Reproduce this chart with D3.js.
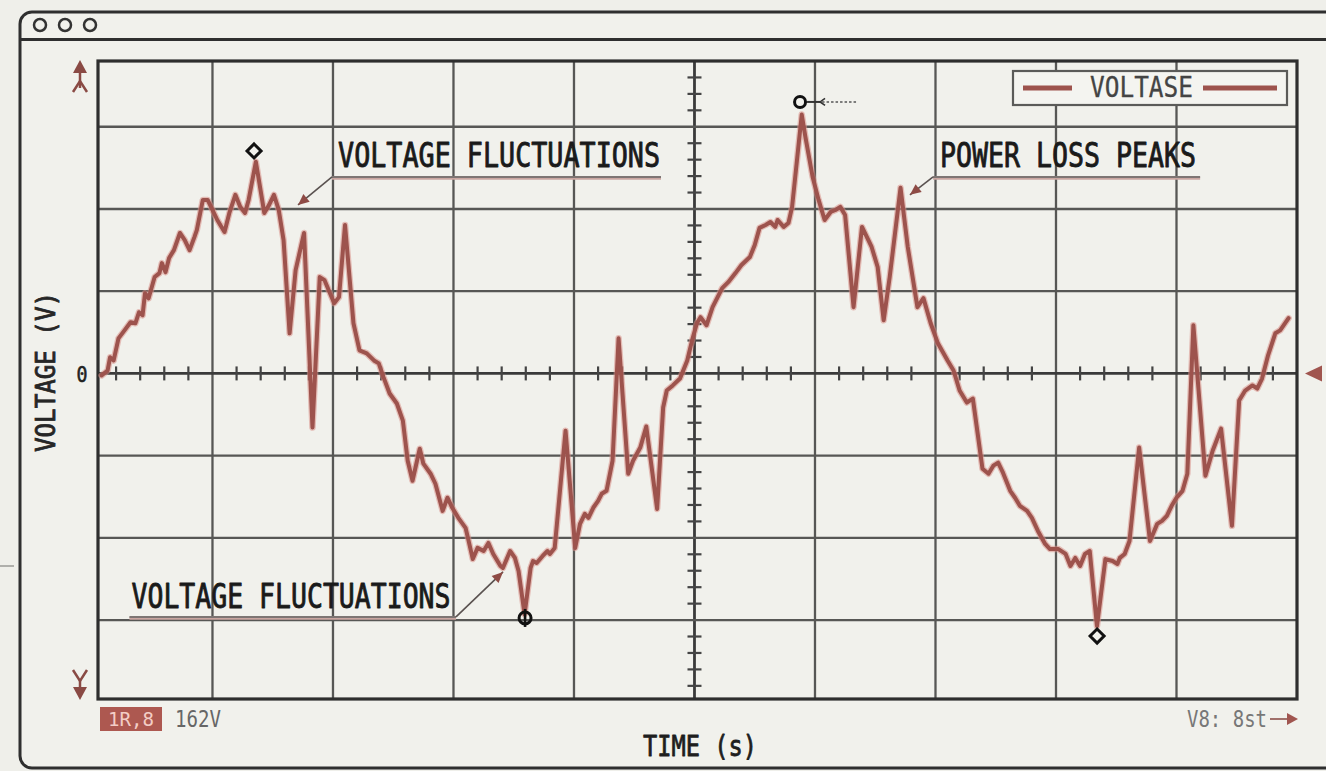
<!DOCTYPE html>
<html><head><meta charset="utf-8">
<script src="https://cdn.jsdelivr.net/npm/d3@7"></script>
<style>
html,body{margin:0;padding:0;background:#efefea;}
svg{display:block;}
</style></head><body>
<svg id="c" width="1326" height="771"></svg>
<script>
// ---------------- DATA ----------------
const times = [0.08,0.13,0.15,0.18,0.22,0.27,0.32,0.36,0.39,0.42,0.44,0.47,0.52,0.56,0.58,0.61,0.64,0.68,0.73,0.77,0.81,0.85,0.87,0.92,0.96,1.00,1.04,1.10,1.14,1.19,1.23,1.27,1.30,1.36,1.43,1.47,1.51,1.55,1.59,1.64,1.69,1.76,1.83,1.89,1.93,2.01,2.05,2.10,2.17,2.22,2.28,2.34,2.38,2.42,2.47,2.53,2.58,2.62,2.66,2.72,2.75,2.81,2.85,2.91,2.95,2.99,3.04,3.10,3.12,3.16,3.20,3.25,3.29,3.33,3.39,3.41,3.47,3.51,3.54,3.59,3.64,3.66,3.69,3.74,3.78,3.80,3.84,3.93,4.01,4.05,4.09,4.12,4.16,4.20,4.23,4.27,4.32,4.37,4.45,4.49,4.55,4.60,4.69,4.74,4.77,4.82,4.88,4.94,4.98,5.02,5.05,5.10,5.15,5.23,5.28,5.34,5.39,5.46,5.50,5.54,5.59,5.63,5.67,5.69,5.74,5.78,5.81,5.89,5.92,5.98,6.03,6.08,6.13,6.17,6.21,6.25,6.32,6.39,6.47,6.52,6.57,6.62,6.71,6.77,6.85,6.90,6.96,7.02,7.10,7.15,7.20,7.26,7.31,7.35,7.39,7.44,7.48,7.52,7.56,7.62,7.66,7.70,7.76,7.80,7.85,7.91,7.95,8.02,8.08,8.12,8.16,8.20,8.24,8.28,8.34,8.41,8.47,8.51,8.53,8.57,8.61,8.69,8.78,8.84,8.88,8.92,8.96,9.00,9.05,9.09,9.14,9.24,9.30,9.37,9.46,9.52,9.57,9.63,9.67,9.71,9.76,9.82,9.86,9.93];
const voltages = [-1.2,1.8,9.8,7.9,21.3,26.2,31.1,30.5,37.2,35.4,48.8,45.7,58.6,61.0,67.1,61.6,70.2,75.0,85.4,81.1,75.0,82.9,87.2,105.5,105.5,99.4,93.3,86.0,97.6,108.6,101.3,97.6,105.5,128.7,97.6,102.5,108.6,99.4,81.1,24.4,62.8,85.4,-32.9,58.6,56.7,42.7,46.4,90.3,30.5,14.0,12.2,7.9,6.1,-2.4,-12.2,-18.3,-28.7,-53.1,-65.3,-45.8,-54.9,-61.0,-67.1,-83.6,-75.6,-81.7,-87.8,-93.9,-100.0,-112.9,-106.1,-108.0,-103.1,-109.8,-117.1,-118.3,-108.0,-112.2,-120.2,-146.4,-118.3,-114.1,-115.3,-111.0,-108.0,-109.8,-106.1,-34.8,-106.1,-91.5,-85.4,-87.8,-81.7,-77.5,-73.2,-71.4,-53.1,21.4,-61.0,-53.1,-45.1,-32.3,-82.4,-20.7,-10.4,-7.3,-3.1,7.9,20.1,30.5,34.2,29.3,40.3,51.9,55.5,61.0,65.9,70.8,78.1,88.5,90.3,92.1,89.1,93.3,89.1,91.5,101.3,157.4,144.0,119.6,105.5,93.3,98.2,99.4,101.3,96.4,40.3,89.1,76.9,64.7,32.3,58.6,112.9,76.9,40.3,45.8,30.5,18.3,7.9,1.8,-10.4,-17.7,-15.3,-36.6,-58.0,-61.0,-56.1,-54.3,-60.4,-71.4,-75.6,-80.5,-83.6,-87.8,-95.8,-103.7,-106.8,-106.8,-109.8,-117.1,-112.2,-117.1,-109.8,-108.0,-153.7,-112.9,-114.1,-115.9,-112.2,-109.8,-101.9,-45.1,-101.9,-91.5,-89.7,-86.6,-80.5,-75.6,-71.4,-61.0,29.3,-62.2,-47.0,-33.6,-92.7,-16.5,-10.4,-7.3,-9.2,-3.1,11.0,24.4,26.2,33.6];
const xGridTicks = [1,2,3,4,5,6,7,8,9];
const yGridTicks = [-150,-100,-50,0,50,100,150];
const yTickLabels = ["0"];
const seriesName = "VOLTASE";
const markerT = [1.345, 5.876, 3.594, 8.341];
const markerV = [135.3, 165.1, -148.7, -159.7];
const markerShape = ["diamond", "circlePointer", "circleBar", "diamond"];
const annTexts = ["VOLTAGE FLUCTUATIONS", "POWER LOSS PEAKS", "VOLTAGE FLUCTUATIONS"];
const annTextT = [2.042, 7.037, 0.328];
const annTextV = [125.6, 125.6, -142.6];
const annLineT0 = [1.992, 6.980, 0.311];
const annLineT1 = [4.722, 9.196, 3.021];
const annLineV = [119.5, 119.5, -148.1];
const annFromEnd = [0, 0, 1];
const annTargetT = [1.710, 6.788, 3.411];
const annTargetV = [102.5, 108.6, -120.7];
const xLabel = "TIME (s)";
const yLabel = "VOLTAGE (V)";
const footLeftBadge = "1R,8";
const footLeftText = "162V";
const footRightText = "V8: 8st";

// ---------------- DRAW ----------------
const MONO = "'DejaVu Sans Mono','Liberation Mono',monospace";
const LINE_COL = "#9d534d";
const svg = d3.select("#c");
const plot = {left:98, right:1297, top:61, bottom:699};
const x = d3.scaleLinear().domain([0.05, 10]).range([plot.left, plot.right]);
const y = d3.scaleLinear().domain([-198, 190]).range([plot.bottom, plot.top]);

function txt(g, s, px, py, size, len, fill, anchor, strokeW) {
  const t = g.append("text").attr("x", px).attr("y", py)
    .attr("font-family", MONO).attr("font-size", size).attr("fill", fill)
    .attr("text-anchor", anchor || "start").text(s);
  if (strokeW) t.attr("stroke", fill).attr("stroke-width", strokeW).attr("stroke-linejoin","round");
  if (len) t.attr("textLength", len).attr("lengthAdjust", "spacingAndGlyphs");
  return t;
}

// window frame
svg.append("rect").attr("x",0).attr("y",0).attr("width",1326).attr("height",771).attr("fill","#efefea");
svg.append("rect").attr("x",20).attr("y",12).attr("width",1340).attr("height",756).attr("rx",12)
  .attr("fill","#f1f1ec").attr("stroke","#2f2f2f").attr("stroke-width",3);
svg.append("line").attr("x1",20).attr("x2",1326).attr("y1",39.5).attr("y2",39.5).attr("stroke","#2f2f2f").attr("stroke-width",3);
[40,65,90].forEach(cx => svg.append("circle").attr("cx",cx).attr("cy",25).attr("r",6)
  .attr("fill","none").attr("stroke","#333").attr("stroke-width",2.5));
svg.append("line").attr("x1",0).attr("x2",14).attr("y1",566).attr("y2",566).attr("stroke","#9a9a96").attr("stroke-width",1.5);

// grid
const g = svg.append("g");
g.selectAll(".vg").data(xGridTicks).join("line")
  .attr("x1", d=>x(d)).attr("x2", d=>x(d)).attr("y1", plot.top).attr("y2", plot.bottom)
  .attr("stroke", d=> d===5 ? "#3a3a3a" : "#575755").attr("stroke-width", d=> d===5 ? 2.8 : 2.3);
g.selectAll(".hg").data(yGridTicks).join("line")
  .attr("y1", d=>y(d)).attr("y2", d=>y(d)).attr("x1", plot.left).attr("x2", plot.right)
  .attr("stroke", d=> d===0 ? "#3a3a3a" : "#575755").attr("stroke-width", d=> d===0 ? 2.8 : 2.3);

// minor ticks
const xMinor = d3.range(1, 50).map(i => i*0.2).filter(v => Math.abs(v - Math.round(v)) > 0.01 && x(v) > plot.left + 4);
g.selectAll(".xm").data(xMinor).join("line")
  .attr("x1", d=>x(d)).attr("x2", d=>x(d)).attr("y1", y(0)-7).attr("y2", y(0)+7)
  .attr("stroke","#444").attr("stroke-width",2.2);
const yMinor = d3.range(-19, 20).map(i => i*10).filter(v => v % 50 !== 0 && y(v) > plot.top + 3 && y(v) < plot.bottom - 3);
g.selectAll(".ym").data(yMinor).join("line")
  .attr("y1", d=>y(d)).attr("y2", d=>y(d)).attr("x1", x(5)-7).attr("x2", x(5)+7)
  .attr("stroke","#444").attr("stroke-width",2.2);

// plot border
g.append("rect").attr("x",plot.left).attr("y",plot.top).attr("width",plot.right-plot.left).attr("height",plot.bottom-plot.top)
  .attr("fill","none").attr("stroke","#2e2e2e").attr("stroke-width",3.2);

// series
const pts = times.map((t,i)=>[t, voltages[i]]);
const line = d3.line().x(d=>x(d[0])).y(d=>y(d[1])).curve(d3.curveLinear);
svg.append("path").attr("d", line(pts)).attr("fill","none").attr("stroke","#d89088").attr("stroke-opacity",0.55)
  .attr("stroke-width",6.5).attr("stroke-linejoin","round").attr("stroke-linecap","round");
svg.append("path").attr("d", line(pts)).attr("fill","none").attr("stroke",LINE_COL)
  .attr("stroke-width",4).attr("stroke-linejoin","round").attr("stroke-linecap","round");

// annotations
const ag = svg.append("g");
annTexts.forEach((s,i) => {
  const len = [322, 256, 319][i];
  txt(ag, s, x(annTextT[i]), y(annTextV[i]), 33, len, "#1a1a1a", "start", 0.9);
  const lx0 = x(annLineT0[i]), lx1 = x(annLineT1[i]), ly = y(annLineV[i]);
  ag.append("line").attr("x1",lx0).attr("x2",lx1).attr("y1",ly+1.2).attr("y2",ly+1.2).attr("stroke","#c9a5a0").attr("stroke-width",3);
  ag.append("line").attr("x1",lx0).attr("x2",lx1).attr("y1",ly).attr("y2",ly).attr("stroke","#7d7573").attr("stroke-width",2);
  const sx = annFromEnd[i] ? lx1 : lx0;
  const tx = x(annTargetT[i]), ty = y(annTargetV[i]);
  ag.append("line").attr("x1",sx).attr("y1",ly).attr("x2",tx).attr("y2",ty).attr("stroke","#5a5250").attr("stroke-width",1.6);
  const ang = Math.atan2(ty-ly, tx-sx);
  const L = 11, Wd = 5;
  const p1 = [tx - L*Math.cos(ang) + Wd*Math.sin(ang), ty - L*Math.sin(ang) - Wd*Math.cos(ang)];
  const p2 = [tx - L*Math.cos(ang) - Wd*Math.sin(ang), ty - L*Math.sin(ang) + Wd*Math.cos(ang)];
  ag.append("path").attr("d", `M${tx},${ty}L${p1[0]},${p1[1]}L${p2[0]},${p2[1]}Z`).attr("fill","#8e4b45");
});

// markers
markerT.forEach((t,i) => {
  const cx = x(t), cy = y(markerV[i]);
  const sh = markerShape[i];
  if (sh === "diamond") {
    ag.append("path").attr("d", `M${cx},${cy-7}L${cx+7},${cy}L${cx},${cy+7}L${cx-7},${cy}Z`)
      .attr("fill","none").attr("stroke","#111").attr("stroke-width",3);
  } else if (sh === "circleBar") {
    ag.append("circle").attr("cx",cx).attr("cy",cy).attr("r",6).attr("fill","none").attr("stroke","#111").attr("stroke-width",3);
    ag.append("line").attr("x1",cx).attr("x2",cx).attr("y1",cy-9).attr("y2",cy+9).attr("stroke","#111").attr("stroke-width",2.6);
  } else {
    ag.append("circle").attr("cx",cx).attr("cy",cy).attr("r",5.5).attr("fill","none").attr("stroke","#111").attr("stroke-width",3);
    ag.append("line").attr("x1",cx+7).attr("x2",cx+20).attr("y1",cy).attr("y2",cy).attr("stroke","#333").attr("stroke-width",2);
    ag.append("path").attr("d",`M${cx+25},${cy-3.5}L${cx+20},${cy}L${cx+25},${cy+3.5}`).attr("fill","none").attr("stroke","#333").attr("stroke-width",1.6);
    ag.append("line").attr("x1",cx+22).attr("x2",cx+58).attr("y1",cy).attr("y2",cy).attr("stroke","#555").attr("stroke-width",1.4).attr("stroke-dasharray","2.5,2");
  }
});

// legend
const lg = svg.append("g");
lg.append("rect").attr("x",1013).attr("y",71).attr("width",274).attr("height",34).attr("fill","#f4f4f0").attr("stroke","#5b5b59").attr("stroke-width",2.2);
lg.append("line").attr("x1",1023).attr("x2",1072).attr("y1",88).attr("y2",88).attr("stroke",LINE_COL).attr("stroke-width",5);
lg.append("line").attr("x1",1203).attr("x2",1277).attr("y1",88).attr("y2",88).attr("stroke",LINE_COL).attr("stroke-width",5);
txt(lg, seriesName, 1090, 97, 28, 103, "#444", "start", 0.3);

// axes labels
txt(svg, yTickLabels[0], 82, 382, 22, 11, "#222", "middle", 0.6);
svg.append("text").attr("transform","translate(55,372) rotate(-90)").attr("text-anchor","middle")
  .attr("font-family",MONO).attr("font-size",26).attr("fill","#262626")
  .attr("stroke","#262626").attr("stroke-width",0.8)
  .attr("textLength",160).attr("lengthAdjust","spacingAndGlyphs").text(yLabel);
txt(svg, xLabel, 700, 756, 28, 114, "#1e1e1e", "middle", 0.8);

// y-axis arrows
const AC = "#8a4a44";
svg.append("path").attr("d","M80,60L87,73L73,73Z").attr("fill",AC);
svg.append("line").attr("x1",80).attr("x2",80).attr("y1",72).attr("y2",88).attr("stroke",AC).attr("stroke-width",2.5);
svg.append("path").attr("d","M73,92L80,81L87,92").attr("fill","none").attr("stroke",AC).attr("stroke-width",2.5);
svg.append("path").attr("d","M73,670L80,681L87,670").attr("fill","none").attr("stroke",AC).attr("stroke-width",2.5);
svg.append("line").attr("x1",80).attr("x2",80).attr("y1",680).attr("y2",690).attr("stroke",AC).attr("stroke-width",2.5);
svg.append("path").attr("d","M80,700L87,687L73,687Z").attr("fill",AC);
// right zero marker
svg.append("path").attr("d",`M1305,${y(0)}L1322,${y(0)-8}L1322,${y(0)+8}Z`).attr("fill","#a0554f");

// footer
svg.append("rect").attr("x",100).attr("y",707).attr("width",62).attr("height",24).attr("fill","#ad5850");
txt(svg, footLeftBadge, 131, 726, 19, 46, "#f3cdc5", "middle");
txt(svg, footLeftText, 175, 727, 23, 46, "#666");
txt(svg, footRightText, 1187, 727, 23, 80, "#777");
svg.append("line").attr("x1",1270).attr("x2",1290).attr("y1",719).attr("y2",719).attr("stroke","#a0706a").attr("stroke-width",2);
svg.append("path").attr("d","M1298,719L1287,713L1287,725Z").attr("fill","#a0554f");
</script>
</body></html>
